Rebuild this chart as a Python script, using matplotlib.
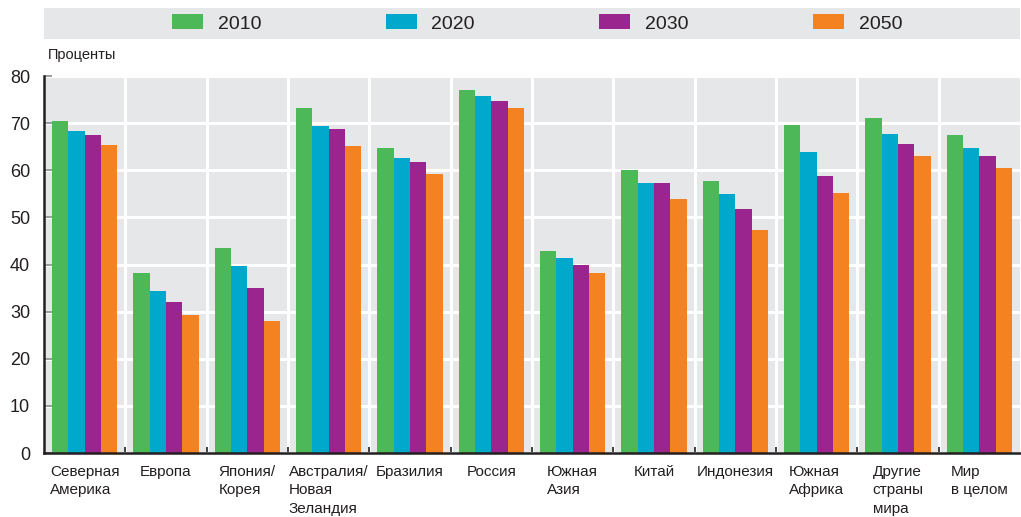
import matplotlib
matplotlib.use('Agg')
import matplotlib.pyplot as plt
import numpy as np
from matplotlib.patches import Rectangle

categories = ["Северная\nАмерика", "Европа", "Япония/\nКорея", "Австралия/\nНовая\nЗеландия",
              "Бразилия", "Россия", "Южная\nАзия", "Китай", "Индонезия", "Южная\nАфрика",
              "Другие\nстраны\nмира", "Мир\nв целом"]
years = ["2010", "2020", "2030", "2050"]
v2010 = [70.5, 38.3, 43.4, 73.3, 64.8, 77.1, 42.8, 60.1, 57.8, 69.7, 71.1, 67.5]
v2020 = [68.4, 34.3, 39.6, 69.4, 62.7, 75.8, 41.3, 57.4, 55.0, 63.9, 67.7, 64.8]
v2030 = [67.5, 32.0, 35.1, 68.8, 61.8, 74.7, 40.0, 57.4, 51.7, 58.8, 65.6, 63.1]
v2050 = [65.4, 29.2, 28.1, 65.2, 59.1, 73.3, 38.1, 53.8, 47.4, 55.2, 63.1, 60.5]
series = [v2010, v2020, v2030, v2050]
colors = ["#4db857", "#00a8cc", "#9b258f", "#f58220"]
ylabel_text = "Проценты"

TXT = "#231f20"
plt.rcParams['font.family'] = ['Liberation Sans', 'DejaVu Sans']

W, H = 1021, 517
fig = plt.figure(figsize=(W / 100, H / 100), dpi=100)
ax = fig.add_axes([44 / W, 1 - 453 / H, (1020 - 44) / W, (453 - 76) / H])
ax.set_facecolor("#e6e7e8")

n = len(categories)
x = np.arange(n) + 0.5
bw = 0.2
handles = []
for i, (vals, c) in enumerate(zip(series, colors)):
    b = ax.bar(x + (i - 1.5) * bw, vals, width=bw, color=c, zorder=3, label=years[i])
    handles.append(b)

ax.set_xlim(0, n)
ax.set_ylim(0, 80)
ax.set_yticks(np.arange(0, 81, 10))
ax.set_xticks(np.arange(1, n))
ax.set_xticklabels([])
ax.grid(True, color="white", linewidth=2.2, zorder=1)
ax.set_axisbelow(True)

for s in ["top", "right"]:
    ax.spines[s].set_visible(False)
for s in ["left", "bottom"]:
    ax.spines[s].set_color("#231f20")
    ax.spines[s].set_linewidth(1.8)
    ax.spines[s].set_zorder(4)

ax.tick_params(axis='y', direction='in', length=6, width=1.2, color="#8a8a8a",
               labelsize=13, labelcolor=TXT, pad=10)
ax.tick_params(axis='x', direction='in', length=4, width=1.2, color="#231f20")

for xi, lab in zip(x, categories):
    ax.text(xi, -2.6, lab, ha='center', va='top', multialignment='left',
            fontsize=11, color=TXT, linespacing=1.38, clip_on=False)

fig.text(48 / W, 1 - 55 / H, ylabel_text, ha='left', va='center', fontsize=10.5, color=TXT)

# legend band
fig.patches.append(Rectangle((44 / W, 1 - 39 / H), (1020 - 44) / W, 31 / H,
                             transform=fig.transFigure, facecolor="#e6e7e8",
                             edgecolor='none', zorder=0))
leg = fig.legend(handles=handles, labels=years, loc='center', ncol=4,
                 bbox_to_anchor=(537 / W, 1 - 23.5 / H), frameon=False,
                 prop={'size': 14},
                 handlelength=1.6, handleheight=0.82, handletextpad=0.75,
                 columnspacing=6.4, labelcolor=TXT, borderpad=0, borderaxespad=0)

fig.savefig("out.png", dpi=100)
